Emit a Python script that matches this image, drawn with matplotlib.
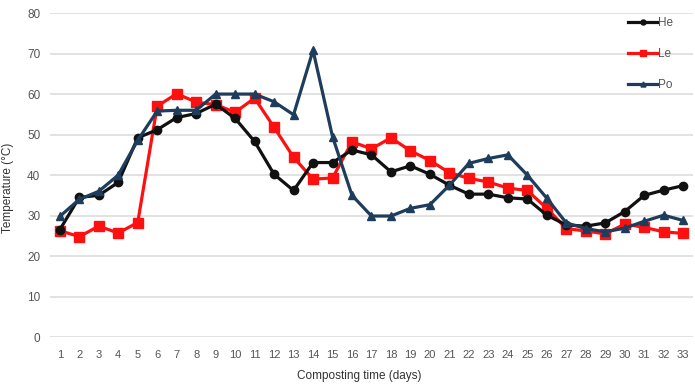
import matplotlib.pyplot as plt
import numpy as np

# data
days = np.arange(1, 34)
he = [26.5, 34.5, 35.0, 38.2, 49.2, 51.2, 54.2, 55.2, 57.5, 54.0, 48.3, 40.2, 36.2,
      43.1, 43.1, 46.2, 45.0, 40.8, 42.3, 40.2, 37.5, 35.3, 35.3, 34.4, 34.1, 30.1,
      27.7, 27.4, 28.2, 31.0, 35.0, 36.3, 37.4]
le = [26.3, 24.8, 27.4, 25.7, 28.3, 57.0, 60.1, 58.0, 57.4, 55.5, 59.0, 51.8, 44.4,
      39.0, 39.3, 48.2, 46.5, 49.2, 46.0, 43.6, 40.6, 39.2, 38.3, 36.8, 36.2, 31.8,
      26.8, 26.2, 25.5, 27.9, 27.1, 26.0, 25.6]
po = [29.8, 34.0, 36.0, 40.0, 48.6, 55.8, 56.0, 56.0, 60.0, 60.0, 60.0, 58.1, 54.9,
      70.8, 49.5, 35.0, 29.9, 29.9, 31.8, 32.7, 37.5, 42.9, 44.1, 45.0, 40.0, 34.3,
      28.2, 26.8, 26.0, 26.9, 28.6, 30.1, 28.8]

plt.rcParams['font.family'] = ['Liberation Sans', 'DejaVu Sans']

fig = plt.figure(figsize=(6.95, 3.84), dpi=100)
ax = fig.add_axes([0.072, 0.122, 0.925, 0.844])

ax.plot(days, he, color='#111111', lw=2.3, marker='o', ms=6, label='He', zorder=3)
ax.plot(days, le, color='#ff1010', lw=2.3, marker='s', ms=6.5, label='Le', zorder=2)
ax.plot(days, po, color='#1e3d5c', lw=2.3, marker='^', ms=6, label='Po', zorder=4)

ax.set_xlim(0.5, 33.5)
ax.set_ylim(0, 80)
ax.set_yticks(np.arange(0, 81, 10))
ax.set_xticks(days)
ax.tick_params(length=0, labelsize=8, colors='#555555')
ax.tick_params(axis='y', pad=7, labelsize=8.5)
ax.tick_params(axis='x', pad=9)
ax.grid(axis='y', color='#dddddd', lw=1.2)
ax.set_axisbelow(True)
for s in ax.spines.values():
    s.set_visible(False)

leg = ax.legend(loc='upper left', bbox_to_anchor=(0.897, 0.968),
                bbox_transform=fig.transFigure, frameon=False,
                fontsize=8.5, handlelength=2.45, handletextpad=0.1,
                labelspacing=1.6, borderaxespad=0, markerscale=0.6)
for t in leg.get_texts():
    t.set_color('#555555')

fig.text(0.517, 0.012, 'Composting time (days)', ha='center', va='baseline',
         fontsize=8.5, color='#333333')
fig.text(0.012, 1 - 188 / 384, 'Temperature (°C)', rotation=90, ha='center',
         va='center', fontsize=8.5, color='#333333')

fig.savefig('out.png', dpi=100)
